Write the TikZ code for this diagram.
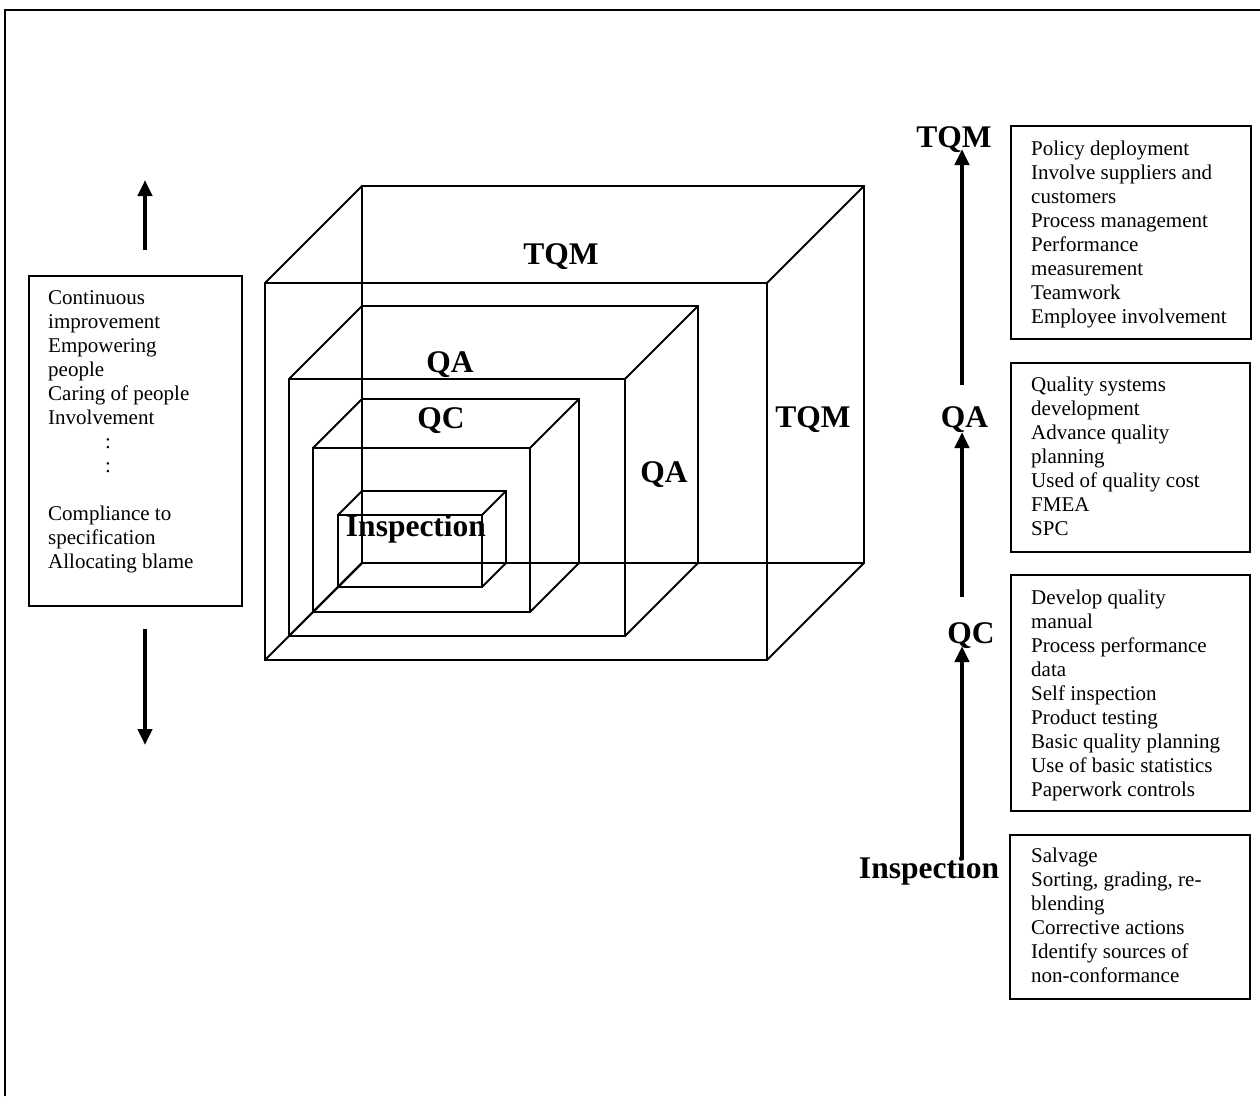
\documentclass[tikz,border=0pt]{standalone}
\usepackage{fontspec}
\setmainfont{Liberation Serif}
\usetikzlibrary{arrows.meta}
\begin{document}
\begin{tikzpicture}[x=1pt,y=-1pt,
  wire/.style={line width=2pt, line join=miter},
  itembox/.style={draw, line width=2pt, anchor=north west, inner sep=0pt},
  itemtext/.style={anchor=north west, align=left, inner sep=0pt, font=\fontsize{21}{24}\selectfont},
  biglabel/.style={anchor=base, inner sep=0pt, font=\fontsize{31.5}{36}\selectfont\bfseries},
  bigarrow/.style={line width=4pt, -{Triangle[length=16pt,width=14pt]}},
]
\useasboundingbox (0,0) rectangle (1260,1096);
% outer frame (top and left edges)
\draw[line width=2.5pt] (5,1096) -- (5,10) -- (1260,10);

% nested boxes sharing the back-bottom-left corner (362,563)
\foreach \d/\w/\h in {97/502/377, 73/336/257, 49/217/164, 24/144/72} {
  \draw[wire] (362,{563-\h}) rectangle ({362+\w},563);
  \draw[wire] ({362-\d},{563+\d-\h}) rectangle ({362-\d+\w},{563+\d});
  \draw[wire] ({362-\d},{563+\d}) -- (362,563);
  \draw[wire] ({362-\d},{563+\d-\h}) -- (362,{563-\h});
  \draw[wire] ({362-\d+\w},{563+\d-\h}) -- ({362+\w},{563-\h});
  \draw[wire] ({362-\d+\w},{563+\d}) -- ({362+\w},563);
}
\node[biglabel] (ctqm1) at (561,264) {TQM};
\node[biglabel] (cqa1) at (450,372) {QA};
\node[biglabel] (cqc) at (441,428) {QC};
\node[biglabel] (cinsp) at (416,536) {Inspection};
\node[biglabel] (cqa2) at (664,482) {QA};
\node[biglabel] (ctqm2) at (813,427) {TQM};

% left box
\node[itembox, minimum width=213pt, minimum height=330pt] (lbox) at (28,275) {};
\node[itemtext] (ltext) at (48,289.5) {\rule{0pt}{15pt}Continuous\\improvement\\Empowering\\people\\Caring of people\\Involvement\\\hspace*{57pt}:\\\hspace*{57pt}:\\\mbox{}\\Compliance to\\specification\\Allocating blame};
\coordinate (lu1) at (145,250);
\coordinate (lu2) at (145,180);
\coordinate (ld1) at (145,629);
\coordinate (ld2) at (145,745);
\draw[bigarrow] (lu1) -- (lu2);
\draw[bigarrow] (ld1) -- (ld2);

% right labels
\node[biglabel] (rtqm) at (954,147) {TQM};
\node[biglabel] (rqa) at (964.5,427) {QA};
\node[biglabel] (rqc) at (971,643) {QC};
\node[biglabel] (rinsp) at (929,878) {Inspection};
\coordinate (a1s) at (962,860);
\coordinate (a1e) at (962,646);
\coordinate (a2s) at (962,597);
\coordinate (a2e) at (962,432);
\coordinate (a3s) at (962,385);
\coordinate (a3e) at (962,149);
\draw[bigarrow] (a1s) -- (a1e);
\draw[bigarrow] (a2s) -- (a2e);
\draw[bigarrow] (a3s) -- (a3e);

% right boxes
\node[itembox, minimum width=240pt, minimum height=213pt] (btqm) at (1010,125) {};
\node[itemtext] (ttqm) at (1031,140.5) {\rule{0pt}{15pt}Policy deployment\\Involve suppliers and\\customers\\Process management\\Performance\\measurement\\Teamwork\\Employee involvement};

\node[itembox, minimum width=239pt, minimum height=189pt] (bqa) at (1010,362) {};
\node[itemtext] (tqa) at (1031,376.7) {\rule{0pt}{15pt}Quality systems\\development\\Advance quality\\planning\\Used of quality cost\\FMEA\\SPC};

\node[itembox, minimum width=239pt, minimum height=236pt] (bqc) at (1010,574) {};
\node[itemtext] (tqc) at (1031,589) {\rule{0pt}{15pt}Develop quality\\manual\\Process performance\\data\\Self inspection\\Product testing\\Basic quality planning\\Use of basic statistics\\Paperwork controls};

\node[itembox, minimum width=240pt, minimum height=164pt] (binsp) at (1009,834) {};
\node[itemtext] (tinsp) at (1031,847) {\rule{0pt}{15pt}Salvage\\Sorting, grading, re-\\blending\\Corrective actions\\Identify sources of\\non-conformance};
\end{tikzpicture}
\end{document}
